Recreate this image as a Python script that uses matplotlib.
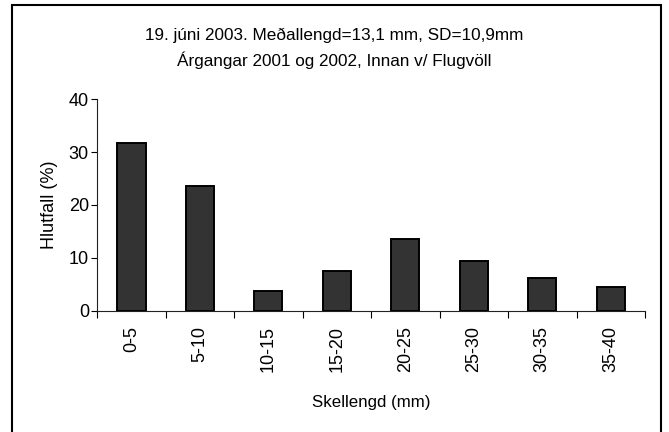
import matplotlib
matplotlib.use("Agg")
from matplotlib import pyplot as plt
from matplotlib.patches import Rectangle
import numpy as np

plt.rcParams['font.family'] = ['Liberation Sans', 'DejaVu Sans']

categories = ["0-5", "5-10", "10-15", "15-20", "20-25", "25-30", "30-35", "35-40"]
hlutfall = [31.8, 23.6, 3.7, 7.45, 13.6, 9.4, 6.2, 4.4]

title_1 = "19. júni 2003. Meðallengd=13,1 mm, SD=10,9mm"
title_2 = "Árgangar 2001 og 2002, Innan v/ Flugvöll"

fig = plt.figure(figsize=(6.69, 4.32), dpi=100)
ax = fig.add_axes([97.3 / 669, 1 - 310.5 / 432, (645 - 97.3) / 669, (310.5 - 99.3) / 432])

x = np.arange(len(categories))
ax.bar(x, hlutfall, width=0.41, color="#333333", edgecolor="black", linewidth=1.4, zorder=3)

ax.set_xlim(-0.5, len(categories) - 0.5)
ax.set_ylim(0, 40)
ax.set_yticks([0, 10, 20, 30, 40])
ax.tick_params(axis="y", labelsize=13, length=4, width=0.8, direction="out", pad=2)

# category labels centred, tick marks at category boundaries
ax.set_xticks(x)
ax.set_xticklabels(categories, rotation=90, fontsize=13)
ax.tick_params(axis="x", which="major", length=0, pad=11)
ax.set_xticks(np.arange(len(categories) + 1) - 0.5, minor=True)
ax.tick_params(axis="x", which="minor", length=5, width=0.8, direction="out")

for side in ["top", "right"]:
    ax.spines[side].set_visible(False)
for side in ["left", "bottom"]:
    ax.spines[side].set_color("#222222")
    ax.spines[side].set_linewidth(0.8)

ax.set_ylabel("Hlutfall (%)", fontsize=13, labelpad=8)
ax.set_xlabel("Skellengd (mm)", fontsize=12.2, labelpad=17)

fig.text(0.5, 1 - 35 / 432, title_1, ha="center", va="center", fontsize=12.3)
fig.text(0.5, 1 - 60 / 432, title_2, ha="center", va="center", fontsize=12.3)

# outer chart frame
fig.patches.append(Rectangle((12 / 669, -0.05), (661 - 12) / 669, 1.05 - 5 / 432,
                             transform=fig.transFigure, fill=False,
                             edgecolor="black", linewidth=1.5))

fig.savefig("out.png", dpi=100)
